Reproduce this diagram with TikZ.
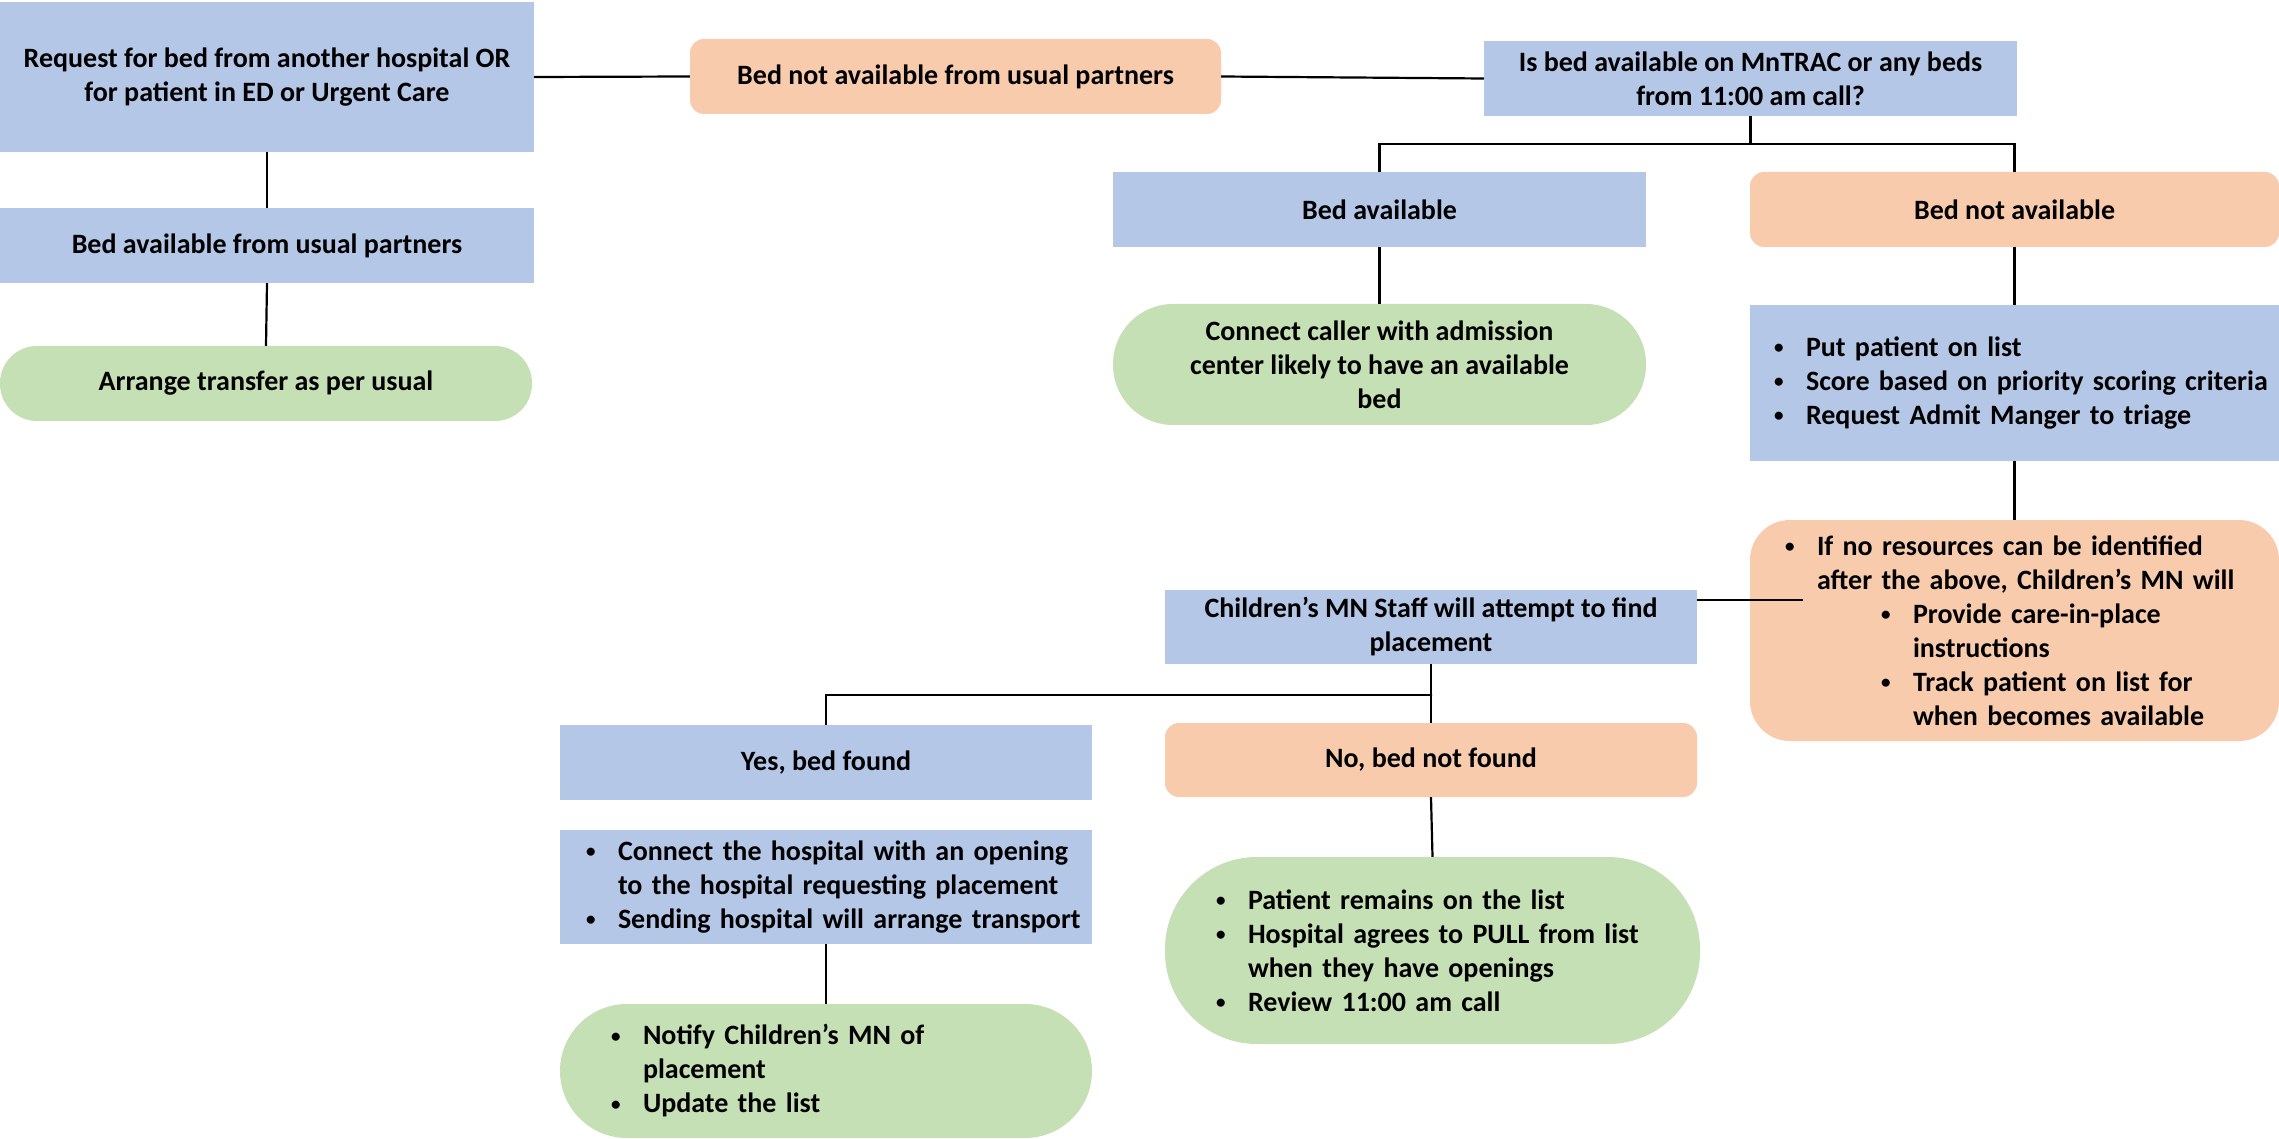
\documentclass[tikz,border=0pt]{standalone}
\usepackage{fontspec}
\setmainfont{Carlito}
\definecolor{cblue}{HTML}{B4C7E7}
\definecolor{corange}{HTML}{F8CBAD}
\definecolor{cgreen}{HTML}{C5E0B4}
\newcommand{\bdot}{\makebox[32pt][l]{\raisebox{2.5pt}{\fontsize{19}{19}\selectfont\textbullet}}}
\newcommand{\bl}[1]{\mbox{\bdot#1}}
\newcommand{\cl}[1]{\mbox{\hspace*{32pt}#1}}
\begin{document}
\begin{tikzpicture}[x=1pt,y=-1pt,
  box/.style={inner sep=0pt, align=center, text=black, font=\bfseries\fontsize{28}{34}\selectfont},
  bluebox/.style={box, fill=cblue},
  orangebox/.style={box, fill=corange, rounded corners=14pt},
  greenbox/.style={box, fill=cgreen},
  conn/.style={line width=2.2pt, black}]
\useasboundingbox (0,0) rectangle (2279,1139);

\node[bluebox, minimum width=534pt, minimum height=150pt] (req) at (267,77)
  {Request for bed from another hospital OR\\for patient in ED or Urgent Care};
\node[orangebox, minimum width=531pt, minimum height=75pt] (notusual) at (955.5,76.5)
  {Bed not available from usual partners};
\node[bluebox, minimum width=533pt, minimum height=75pt] (mntrac) at (1750.5,78.5)
  {Is bed available on MnTRAC or any beds\\from 11:00 am call?};
\node[bluebox, minimum width=534pt, minimum height=75pt] (usual) at (267,245.5)
  {Bed available from usual partners};
\node[greenbox, rounded corners=37pt, minimum width=532pt, minimum height=75pt] (arrange) at (266,383.5)
  {Arrange transfer as per usual};
\node[bluebox, minimum width=533pt, minimum height=75pt] (bedavail) at (1379.5,209.5)
  {Bed available};
\node[orangebox, minimum width=529pt, minimum height=75pt] (bednot) at (2014.5,209.5)
  {Bed not available};
\node[greenbox, rounded corners=60pt, minimum width=533pt, minimum height=121pt] (caller) at (1379.5,364.5)
  {Connect caller with admission\\center likely to have an available\\bed};
\node[bluebox, minimum width=529pt, minimum height=156pt, inner xsep=24pt, text width=481pt, align=left] (put) at (2014.5,383)
  {\bl{Put patient on list}\\\bl{Score based on priority scoring criteria}\\\bl{Request Admit Manger to triage}};
\node[orangebox, rounded corners=40pt, minimum width=529pt, minimum height=221pt, inner xsep=35pt, text width=459pt, align=left] (ifno) at (2014.5,630.5)
  {\bl{If no resources can be identified}\\\cl{after the above, Children’s MN will}\\
   \hspace*{96pt}\bl{Provide care-in-place}\\\hspace*{96pt}\cl{instructions}\\
   \hspace*{96pt}\bl{Track patient on list for}\\\hspace*{96pt}\cl{when becomes available}};
\node[bluebox, minimum width=532pt, minimum height=74pt] (staff) at (1431,627)
  {Children’s MN Staff will attempt to find\\placement};
\node[bluebox, minimum width=532pt, minimum height=75pt] (yes) at (826,762.5)
  {Yes, bed found};
\node[orangebox, minimum width=532pt, minimum height=74pt] (no) at (1431,760)
  {No, bed not found};
\node[bluebox, minimum width=532pt, minimum height=114pt, inner xsep=26pt, text width=480pt, align=left] (hosp) at (826,887)
  {\bl{Connect the hospital with an opening}\\\cl{to the hospital requesting placement}\\\bl{Sending hospital will arrange transport}};
\node[greenbox, rounded corners=67pt, minimum width=532pt, minimum height=134pt, inner xsep=51pt, text width=430pt, align=left] (notify) at (826,1071)
  {\bl{Notify Children’s MN of}\\\cl{placement}\\\bl{Update the list}};
\node[greenbox, rounded corners=92pt, minimum width=535pt, minimum height=187pt, inner xsep=51pt, text width=433pt, align=left] (remains) at (1432.5,950.5)
  {\bl{Patient remains on the list}\\\bl{Hospital agrees to PULL from list}\\\cl{when they have openings}\\\bl{Review 11:00 am call}};

\draw[conn] (req.east) -- (notusual.west);
\draw[conn] (notusual.east) -- (mntrac.west);
\draw[conn] (req.south) -- (usual.north);
\draw[conn] (usual.south) -- (arrange.north);
\coordinate (j1) at (1751,144);
\draw[conn] (mntrac.south) -- (mntrac.south |- j1);
\draw[conn] (bedavail.north) |- (j1) -| (bednot.north);
\draw[conn] (bedavail.south) -- (caller.north);
\draw[conn] (bednot.south) -- (put.north);
\draw[conn] (put.south) -- (ifno.north);
\coordinate (k) at (1803,600);
\draw[conn] (staff.east |- k) -- (k);
\coordinate (j2) at (1432,695);
\draw[conn] (staff.south) -- (staff.south |- j2);
\draw[conn] (yes.north) |- (j2) -| (no.north);
\draw[conn] (hosp.south) -- (notify.north);
\draw[conn] (no.south) -- (remains.north);
\end{tikzpicture}
\end{document}
